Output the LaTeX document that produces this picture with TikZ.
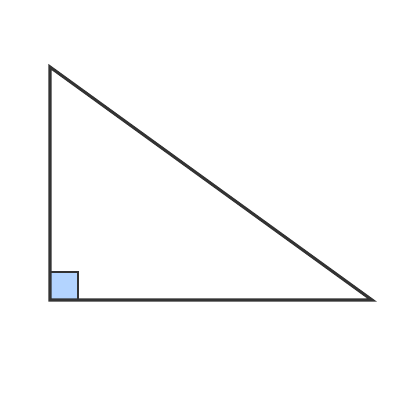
\documentclass[tikz,border=0pt]{standalone}
\usetikzlibrary{positioning}
\definecolor{edgegray}{HTML}{333333}
\definecolor{anglefill}{HTML}{B3D4FF}
\begin{document}
\begin{tikzpicture}[
		x=0.025cm,
		y=-0.025cm,
		side/.style={
			draw=edgegray,
			line width=2.2pt,
			line join=miter
		},
		rightangle/.style={
			draw=edgegray,
			fill=anglefill,
			line width=1.4pt
		}
		]
		\useasboundingbox (0,0) rectangle (400,400);
		\coordinate (TOP)    at (50,67);
		\coordinate (CORNER) at (50,300);
		\coordinate (RIGHT)  at (372,300);
		
		\draw[rightangle] (CORNER) rectangle ++(28,-28);
		\draw[side] (TOP) -- (CORNER) -- (RIGHT) -- cycle;
		\end{tikzpicture}
\end{document}
